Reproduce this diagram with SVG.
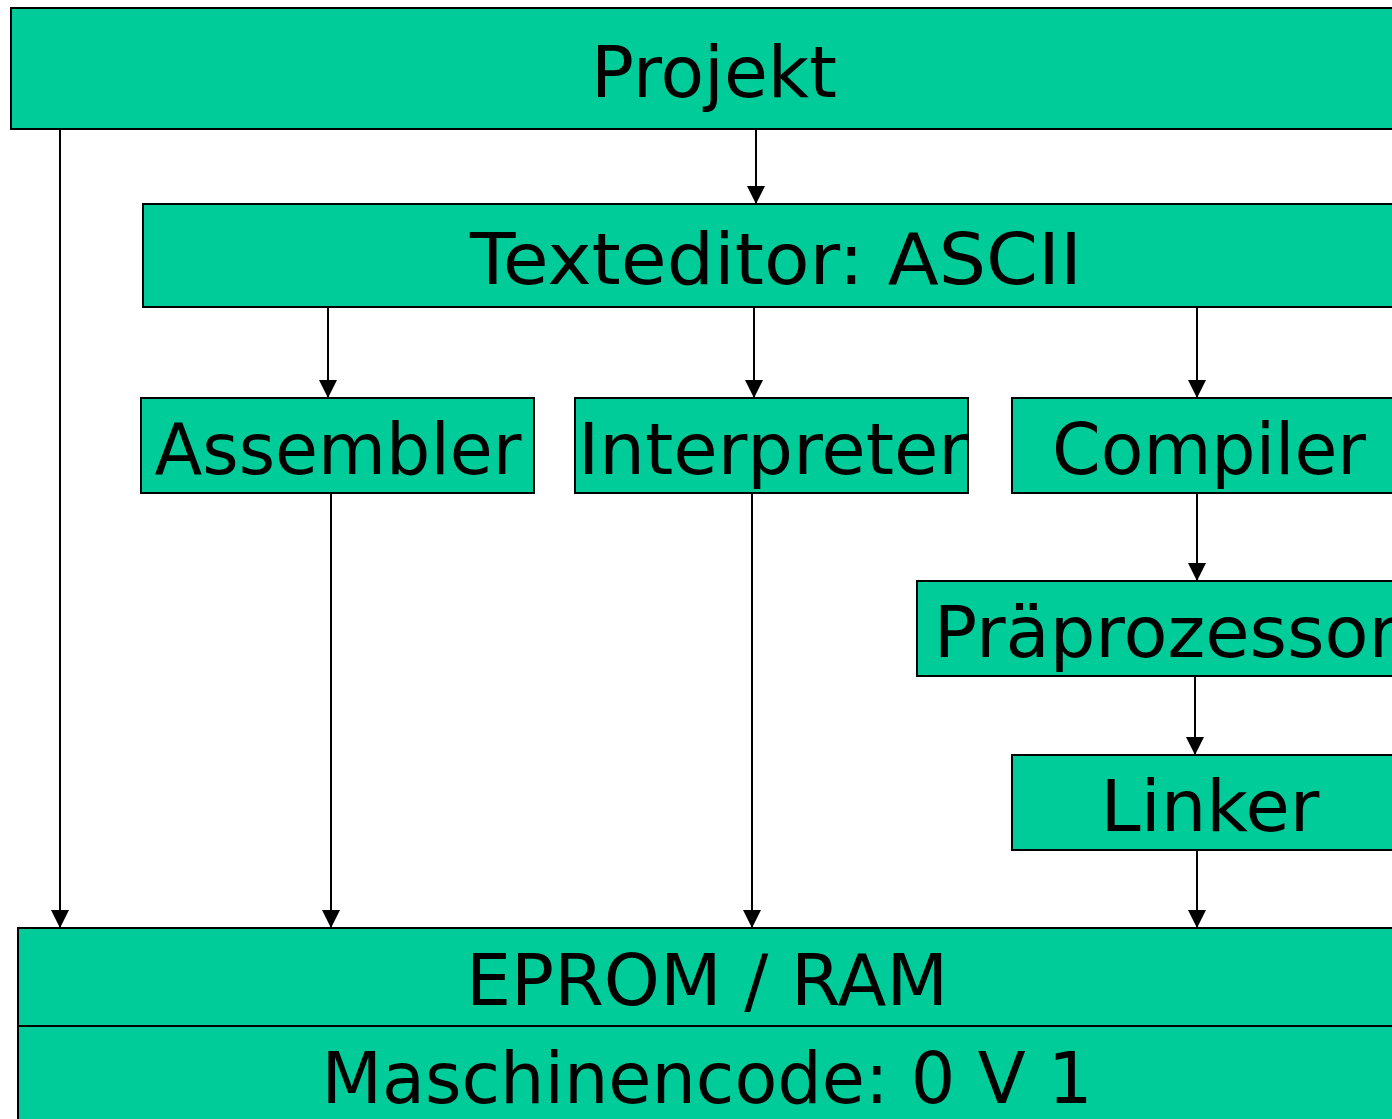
<svg xmlns="http://www.w3.org/2000/svg" width="1392" height="1119" viewBox="0 0 1392 1119">
  <style>
    .box { fill: #00CC99; stroke: #000; stroke-width: 2; }
    .lbl { font-family: "DejaVu Sans", Verdana, sans-serif; font-size: 72px; fill: #000; text-anchor: middle; }
    .edge { stroke: #000; stroke-width: 2; fill: none; marker-end: url(#arrow); }
  </style>
  <defs>
    <marker id="arrow" markerUnits="userSpaceOnUse" markerWidth="18" markerHeight="18" viewBox="0 0 18 18" refX="9" refY="18" orient="0">
      <path d="M0,0 L18,0 L9,18 Z" fill="#000"/>
    </marker>
  </defs>
  <rect width="1392" height="1119" fill="#fff"/>

  <g id="connectors">
    <line class="edge" x1="756" y1="129" x2="756" y2="204"/>
    <line class="edge" x1="60" y1="129" x2="60" y2="928"/>
    <line class="edge" x1="328" y1="307" x2="328" y2="398"/>
    <line class="edge" x1="754" y1="307" x2="754" y2="398"/>
    <line class="edge" x1="1197" y1="307" x2="1197" y2="398"/>
    <line class="edge" x1="331" y1="493" x2="331" y2="928"/>
    <line class="edge" x1="752" y1="493" x2="752" y2="928"/>
    <line class="edge" x1="1197" y1="493" x2="1197" y2="581"/>
    <line class="edge" x1="1195" y1="676" x2="1195" y2="755"/>
    <line class="edge" x1="1197" y1="850" x2="1197" y2="928"/>
  </g>

  <g id="projekt">
    <rect class="box" x="11" y="8" width="1400" height="121"/>
    <text class="lbl" x="714" y="97" textLength="246" lengthAdjust="spacingAndGlyphs">Projekt</text>
  </g>

  <g id="texteditor">
    <rect class="box" x="143" y="204" width="1270" height="103"/>
    <text class="lbl" x="776" y="284" textLength="612" lengthAdjust="spacingAndGlyphs">Texteditor: ASCII</text>
  </g>

  <g id="assembler">
    <rect class="box" x="141" y="398" width="393" height="95"/>
    <text class="lbl" x="338" y="474" textLength="367" lengthAdjust="spacingAndGlyphs">Assembler</text>
  </g>

  <g id="interpreter">
    <rect class="box" x="575" y="398" width="393" height="95"/>
    <text class="lbl" x="773" y="474" textLength="390" lengthAdjust="spacingAndGlyphs">Interpreter</text>
  </g>

  <g id="compiler">
    <rect class="box" x="1012" y="398" width="400" height="95"/>
    <text class="lbl" x="1209" y="474" textLength="314" lengthAdjust="spacingAndGlyphs">Compiler</text>
  </g>

  <g id="praeprozessor">
    <rect class="box" x="917" y="581" width="500" height="95"/>
    <text class="lbl" x="1166" y="657">Präprozessor</text>
  </g>

  <g id="linker">
    <rect class="box" x="1012" y="755" width="400" height="95"/>
    <text class="lbl" x="1210" y="831">Linker</text>
  </g>

  <g id="speicher">
    <rect class="box" x="18" y="928" width="1400" height="98"/>
    <text class="lbl" x="707" y="1005" textLength="482" lengthAdjust="spacingAndGlyphs">EPROM / RAM</text>
    <rect class="box" x="18" y="1026" width="1400" height="110"/>
    <text class="lbl" x="707" y="1103" textLength="771" lengthAdjust="spacingAndGlyphs">Maschinencode: 0 V 1</text>
  </g>
</svg>
